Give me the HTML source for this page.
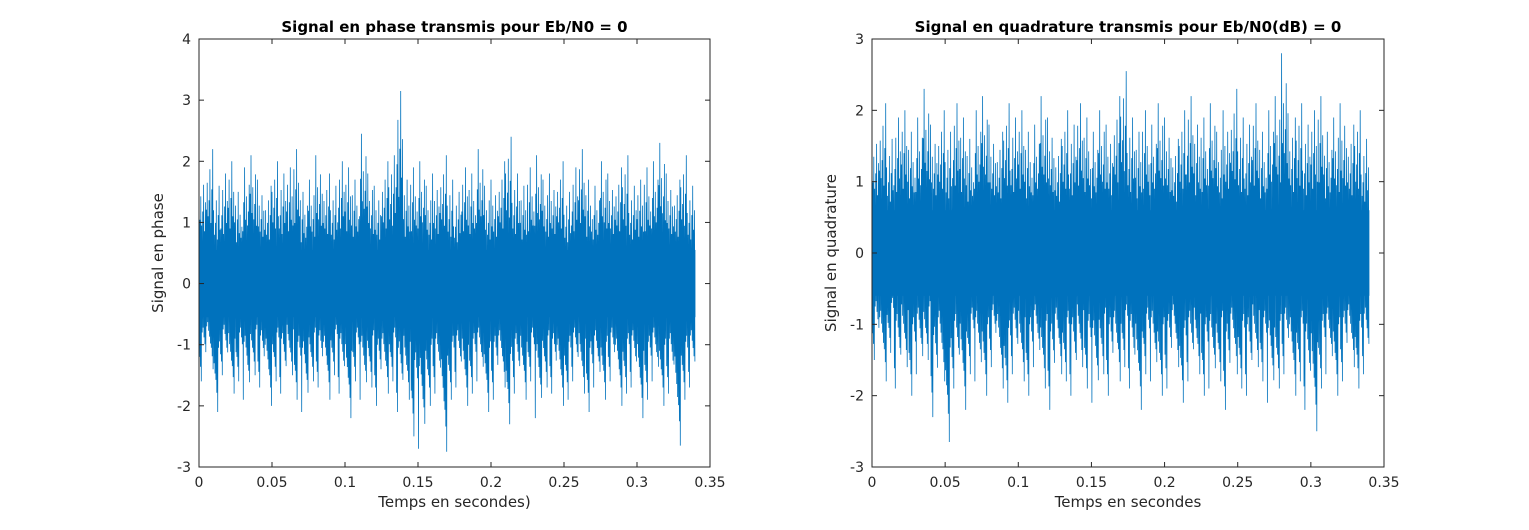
<!DOCTYPE html>
<html><head><meta charset="utf-8"><style>
body{margin:0;background:#fff;width:1529px;height:525px;overflow:hidden;font-family:"Liberation Sans","DejaVu Sans",sans-serif}
svg text{font-family:"DejaVu Sans","Liberation Sans",sans-serif;fill:#262626}
</style></head><body>
<svg id="chart" width="1529" height="525" xmlns="http://www.w3.org/2000/svg"></svg>
<script>
const xTicks=[0,0.05,0.1,0.15,0.2,0.25,0.3,0.35];
const xTickLabels=["0","0.05","0.1","0.15","0.2","0.25","0.3","0.35"];
const leftYTicks=[-3,-2,-1,0,1,2,3,4];
const rightYTicks=[-3,-2,-1,0,1,2,3];
const binWidth=0.005;
const leftMax=[1.9,2.2,1.6,1.8,2.0,1.5,1.9,2.1,1.7,1.6,2.0,1.8,1.9,2.2,1.5,1.7,2.1,1.8,1.6,2.0,1.9,1.7,2.45,1.8,1.6,2.0,2.1,3.15,1.7,1.9,2.0,1.6,1.8,2.1,1.7,1.5,1.9,1.8,2.2,1.6,1.7,2.0,2.4,1.8,1.6,1.9,2.1,1.7,1.8,2.0,1.5,1.9,2.2,1.7,1.6,2.0,1.8,1.9,2.1,1.6,1.7,1.9,2.0,2.3,1.8,1.7,2.1,1.6];
const leftMin=[-1.6,-1.4,-2.1,-1.5,-1.8,-1.6,-1.9,-1.5,-1.7,-2.0,-1.6,-1.8,-1.5,-1.9,-2.1,-1.6,-1.7,-1.9,-1.5,-1.8,-2.2,-1.6,-1.9,-1.7,-2.0,-1.8,-1.6,-2.1,-1.9,-2.5,-2.7,-2.0,-1.8,-2.75,-1.9,-1.7,-2.0,-1.8,-1.6,-2.1,-1.9,-1.7,-2.3,-1.8,-1.9,-1.6,-2.2,-1.7,-1.8,-2.0,-1.9,-1.6,-1.8,-2.1,-1.7,-1.9,-1.6,-2.0,-1.8,-1.7,-2.2,-1.9,-1.6,-2.0,-1.8,-2.65,-1.9,-1.7];
const rightMax=[1.8,2.1,1.6,1.9,2.0,1.7,1.9,2.3,1.8,2.0,1.7,2.1,1.9,1.6,2.0,2.2,1.8,1.7,2.1,1.9,2.0,1.7,1.8,2.2,1.9,1.6,2.0,1.8,2.1,1.9,1.7,2.0,1.8,2.2,2.55,1.9,1.7,2.0,1.8,2.1,1.9,1.6,2.0,2.2,1.8,1.9,2.1,1.7,2.0,2.3,1.9,1.8,2.1,1.7,2.0,2.2,2.8,1.9,2.1,1.8,2.0,2.2,1.7,1.9,2.1,1.8,2.0,1.6];
const rightMin=[-1.5,-1.8,-1.4,-1.9,-1.6,-2.0,-1.7,-1.5,-2.3,-1.8,-2.65,-1.9,-2.2,-1.7,-1.8,-2.0,-1.6,-1.9,-2.1,-1.7,-1.8,-2.0,-1.6,-1.9,-2.2,-1.7,-1.8,-2.0,-1.6,-1.9,-2.1,-1.7,-2.0,-1.8,-1.6,-1.9,-2.2,-1.7,-1.8,-2.0,-1.9,-1.6,-2.1,-1.8,-1.7,-2.0,-1.9,-1.8,-2.2,-1.7,-1.9,-2.0,-1.6,-1.8,-2.1,-1.9,-1.7,-2.0,-1.8,-2.2,-2.5,-1.9,-1.7,-2.0,-1.8,-1.6,-1.9,-1.7];
const leftCore=[0.55,-0.55];
const rightCore=[0.6,-0.6];
const NS="http://www.w3.org/2000/svg";
const svg=document.getElementById('chart');
function el(tag,attrs,parent){const e=document.createElementNS(NS,tag);for(const k in attrs)e.setAttribute(k,attrs[k]);(parent||svg).appendChild(e);return e;}
const fracs=[1,0.55,0.75,0.5,0.62,0.85,0.45,0.7];
function drawPanel(p){
  const g=el('g',{});
  
  
  const sx=v=>p.x0+(v-0)/(0.35)*(p.x1-p.x0);
  const sy=v=>p.y1-(v-p.ymin)/(p.ymax-p.ymin)*(p.y1-p.y0);
  const core=el('rect',{x:sx(0),y:sy(p.core[0]),width:sx(p.maxArr.length*binWidth)-sx(0),height:sy(p.core[1])-sy(p.core[0]),fill:'#0072bd'},g);
  
  
  let pts=[];
  const n=fracs.length;
  for(let i=0;i<p.maxArr.length;i++){
    const t=i*binWidth;
    for(let k=0;k<n;k++){
      const f=fracs[(k+i)%n];
      pts.push([sx(t+binWidth*k/n),sy(p.maxArr[i]*f)]);
      pts.push([sx(t+binWidth*(k+0.5)/n),sy(p.minArr[i]*fracs[(k*3+i+2)%n])]);
    }
  }
  const line=el('polyline',{points:pts.map(q=>q[0].toFixed(1)+','+q[1].toFixed(1)).join(' '),fill:'none',stroke:'#0072bd','stroke-width':0.8},g);
  
  
  const box=el('rect',{x:p.x0,y:p.y0,width:p.x1-p.x0,height:p.y1-p.y0,fill:'none',stroke:'#262626','stroke-width':1},g);
  
  
  xTicks.forEach((v,i)=>{
    const x=sx(v);
    el('line',{x1:x,x2:x,y1:p.y1,y2:p.y1-5,stroke:'#262626'},g);
    el('line',{x1:x,x2:x,y1:p.y0,y2:p.y0+5,stroke:'#262626'},g);
    const t=el('text',{x:x,y:p.y1+20,'text-anchor':'middle','font-size':14},g);
    t.textContent=xTickLabels[i];
    
    
  });
  p.yTicks.forEach(v=>{
    const y=sy(v);
    el('line',{x1:p.x0,x2:p.x0+5,y1:y,y2:y,stroke:'#262626'},g);
    el('line',{x1:p.x1,x2:p.x1-5,y1:y,y2:y,stroke:'#262626'},g);
    const t=el('text',{x:p.x0-8,y:y+5,'text-anchor':'end','font-size':14},g);
    t.textContent=String(v);
    
    
  });
  const ti=el('text',{x:(p.x0+p.x1)/2,y:p.y0-7,'text-anchor':'middle','font-size':15,'font-weight':'bold'},g);
  ti.textContent=p.title;ti.style.fill='#000';
  
  
  const xl=el('text',{x:(p.x0+p.x1)/2,y:p.y1+40,'text-anchor':'middle','font-size':15},g);
  xl.textContent=p.xlabel;
  
  
  const yl=el('text',{x:0,y:0,'text-anchor':'middle','font-size':15,transform:`translate(${p.x0-36},${(p.y0+p.y1)/2}) rotate(-90)`},g);
  yl.textContent=p.ylabel;
  
  
}
drawPanel({name:'in-phase-plot',x0:199,x1:710,y0:39,y1:467,ymin:-3,ymax:4,yTicks:leftYTicks,maxArr:leftMax,minArr:leftMin,core:leftCore,title:'Signal en phase transmis pour Eb/N0 = 0',xlabel:'Temps en secondes)',ylabel:'Signal en phase'});
drawPanel({name:'quadrature-plot',x0:872,x1:1384,y0:39,y1:467,ymin:-3,ymax:3,yTicks:rightYTicks,maxArr:rightMax,minArr:rightMin,core:rightCore,title:'Signal en quadrature transmis pour Eb/N0(dB) = 0',xlabel:'Temps en secondes',ylabel:'Signal en quadrature'});
</script>
</body></html>
